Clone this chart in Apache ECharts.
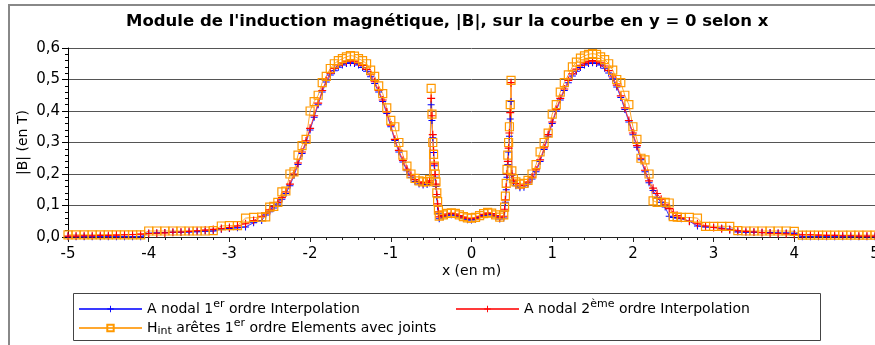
<!DOCTYPE html>
<html>
<head>
<meta charset="utf-8">
<script src="https://cdn.jsdelivr.net/npm/echarts@6/dist/echarts.min.js"></script>
<style>
  html, body { margin: 0; padding: 0; background: #fff; }
  #chart { width: 875px; height: 345px; }
</style>
</head>
<body>
<div id="chart"></div>
<script>
// Sample positions along the line y = 0 (metres)
const xPos = [
  -5.0, -4.9, -4.8, -4.7, -4.6, -4.5, -4.4, -4.3, -4.2, -4.1,
  -4.0, -3.9, -3.8, -3.7, -3.6, -3.5, -3.4, -3.3, -3.2, -3.1,
  -3.0, -2.9, -2.8, -2.7, -2.6,
  -2.55, -2.5, -2.45, -2.4, -2.35, -2.3, -2.25, -2.2, -2.15, -2.1,
  -2.05, -2.0, -1.95, -1.9, -1.85, -1.8, -1.75, -1.7, -1.65, -1.6,
  -1.55, -1.5, -1.45, -1.4, -1.35, -1.3, -1.25, -1.2, -1.15, -1.1,
  -1.05, -1.0, -0.95, -0.9, -0.85, -0.8, -0.75, -0.7, -0.65, -0.6,
  -0.55, -0.52,
  -0.5, -0.49, -0.48, -0.47, -0.46, -0.45, -0.44, -0.43, -0.42, -0.41, -0.4,
  -0.35, -0.3, -0.25, -0.2, -0.15, -0.1, -0.05, 0, 0.05, 0.1, 0.15, 0.2, 0.25, 0.3, 0.35,
  0.4, 0.41, 0.42, 0.43, 0.44, 0.45, 0.46, 0.47, 0.48, 0.49, 0.5,
  0.52, 0.55,
  0.6, 0.65, 0.7, 0.75, 0.8, 0.85, 0.9, 0.95, 1.0, 1.05,
  1.1, 1.15, 1.2, 1.25, 1.3, 1.35, 1.4, 1.45, 1.5, 1.55,
  1.6, 1.65, 1.7, 1.75, 1.8, 1.85, 1.9, 1.95, 2.0, 2.05,
  2.1, 2.15, 2.2, 2.25, 2.3, 2.35, 2.4, 2.45, 2.5, 2.55,
  2.6, 2.7, 2.8, 2.9, 3.0, 3.1, 3.2, 3.3, 3.4, 3.5,
  3.6, 3.7, 3.8, 3.9, 4.0, 4.1, 4.2, 4.3, 4.4, 4.5,
  4.6, 4.7, 4.8, 4.9, 5.0
];

// |B| in tesla, A nodal, first order
const bNodal1 = [
  0.001, 0.001, 0.001, 0.001, 0.001, 0.001, 0.001, 0.001, 0.001, 0.001,
  0.012, 0.013, 0.014, 0.015, 0.015, 0.016, 0.017, 0.018, 0.019, 0.025,
  0.027, 0.029, 0.032, 0.045, 0.052,
  0.07, 0.08, 0.092, 0.105, 0.12, 0.138, 0.163, 0.195, 0.23, 0.265,
  0.3, 0.34, 0.38, 0.42, 0.46, 0.492, 0.514, 0.528, 0.539, 0.546,
  0.551, 0.553, 0.551, 0.546, 0.538, 0.526, 0.509, 0.487, 0.46, 0.43,
  0.392, 0.35, 0.306, 0.27, 0.238, 0.21, 0.19, 0.176, 0.168, 0.165,
  0.167, 0.172,
  0.42, 0.37, 0.315, 0.268, 0.226, 0.19, 0.16, 0.128, 0.098, 0.074, 0.058,
  0.064, 0.069, 0.071, 0.069, 0.064, 0.059, 0.055, 0.054, 0.056, 0.062, 0.068, 0.072, 0.07, 0.064, 0.057,
  0.06, 0.082, 0.11, 0.15, 0.19, 0.23, 0.27, 0.32, 0.375, 0.43, 0.195,
  0.175, 0.163,
  0.156, 0.158, 0.168, 0.184, 0.207, 0.24, 0.278, 0.32, 0.36, 0.4,
  0.435, 0.465, 0.49, 0.511, 0.526, 0.538, 0.546, 0.551, 0.553, 0.551,
  0.546, 0.536, 0.521, 0.502, 0.476, 0.443, 0.405, 0.365, 0.325, 0.285,
  0.245, 0.207, 0.172, 0.148, 0.125, 0.11, 0.095, 0.066, 0.062, 0.06,
  0.058, 0.05, 0.035, 0.032, 0.03, 0.028, 0.025, 0.016, 0.015, 0.015,
  0.014, 0.014, 0.013, 0.013, 0.012, 0.001, 0.001, 0.001, 0.001, 0.001,
  0.001, 0.001, 0.001, 0.001, 0.001
];

// |B| in tesla, A nodal, second order
const bNodal2 = [
  0.003, 0.003, 0.004, 0.004, 0.005, 0.005, 0.006, 0.007, 0.008, 0.009,
  0.011, 0.012, 0.013, 0.015, 0.016, 0.018, 0.02, 0.022, 0.024, 0.027,
  0.03, 0.035, 0.042, 0.052, 0.066,
  0.076, 0.086, 0.097, 0.11, 0.125, 0.143, 0.168, 0.2, 0.235, 0.27,
  0.305, 0.345, 0.385, 0.425, 0.465, 0.497, 0.52, 0.535, 0.546, 0.553,
  0.558, 0.56, 0.558, 0.553, 0.545, 0.532, 0.515, 0.493, 0.465, 0.435,
  0.397, 0.355, 0.31, 0.275, 0.243, 0.215, 0.196, 0.182, 0.174, 0.171,
  0.173, 0.178,
  0.44, 0.385, 0.325, 0.275, 0.232, 0.198, 0.168, 0.135, 0.105, 0.08, 0.064,
  0.068, 0.073, 0.075, 0.073, 0.068, 0.063, 0.059, 0.058, 0.06, 0.066, 0.072, 0.076, 0.074, 0.068, 0.061,
  0.066, 0.088, 0.118, 0.158, 0.2, 0.24, 0.282, 0.33, 0.395, 0.49, 0.2,
  0.18, 0.17,
  0.163, 0.165, 0.174, 0.19, 0.213, 0.245, 0.283, 0.325, 0.365, 0.405,
  0.44, 0.47, 0.497, 0.518, 0.533, 0.545, 0.553, 0.558, 0.56, 0.558,
  0.553, 0.543, 0.528, 0.508, 0.482, 0.448, 0.41, 0.37, 0.33, 0.29,
  0.25, 0.212, 0.178, 0.155, 0.138, 0.12, 0.104, 0.09, 0.078, 0.068,
  0.06, 0.05, 0.042, 0.035, 0.03, 0.026, 0.023, 0.02, 0.018, 0.016,
  0.014, 0.012, 0.011, 0.01, 0.008, 0.007, 0.007, 0.006, 0.005, 0.005,
  0.004, 0.004, 0.003, 0.003, 0.003
];

// |B| in tesla, H int, edge elements with joints
const hAretes = [
  0.007, 0.007, 0.007, 0.007, 0.007, 0.007, 0.007, 0.007, 0.007, 0.007,
  0.019, 0.019, 0.019, 0.019, 0.019, 0.019, 0.019, 0.019, 0.02, 0.035,
  0.036, 0.036, 0.06, 0.062, 0.063,
  0.064, 0.095, 0.097, 0.11, 0.143, 0.146, 0.2, 0.207, 0.26, 0.29,
  0.31, 0.4, 0.43, 0.45, 0.49, 0.51, 0.535, 0.55, 0.56, 0.566,
  0.572, 0.576, 0.574, 0.566, 0.56, 0.55, 0.53, 0.51, 0.48, 0.455,
  0.41, 0.37, 0.35, 0.3, 0.26, 0.225, 0.2, 0.186, 0.178, 0.175,
  0.176, 0.182,
  0.472, 0.39, 0.3, 0.262, 0.225, 0.2, 0.175, 0.14, 0.112, 0.085, 0.066,
  0.07, 0.075, 0.077, 0.075, 0.07, 0.065, 0.061, 0.06, 0.062, 0.068, 0.074, 0.078, 0.076, 0.07, 0.063,
  0.07, 0.095, 0.13, 0.17, 0.215, 0.26, 0.3, 0.35, 0.42, 0.497, 0.21,
  0.185, 0.175,
  0.168, 0.17, 0.18, 0.2, 0.23, 0.27, 0.3, 0.33, 0.39, 0.42,
  0.46, 0.49, 0.515, 0.54, 0.555, 0.568, 0.575, 0.58, 0.582, 0.58,
  0.572, 0.563, 0.55, 0.53, 0.5, 0.49, 0.45, 0.42, 0.35, 0.31,
  0.25, 0.245, 0.2, 0.115, 0.11, 0.11, 0.11, 0.108, 0.065, 0.063,
  0.062, 0.062, 0.06, 0.034, 0.034, 0.034, 0.034, 0.02, 0.019, 0.019,
  0.019, 0.019, 0.019, 0.019, 0.018, 0.006, 0.006, 0.006, 0.006, 0.006,
  0.006, 0.006, 0.006, 0.006, 0.006
];

const yTickLabels = ['0,0', '0,1', '0,2', '0,3', '0,4', '0,5', '0,6'];

const seriesNames = [
  'A nodal 1er ordre Interpolation',
  'A nodal 2ème ordre Interpolation',
  'Hint arêtes 1er ordre Elements avec joints'
];
// Legend labels with superscripts / subscript
const legendRich = {
  [seriesNames[0]]: '{n|A nodal 1}{sup|er}{n| ordre Interpolation}',
  [seriesNames[1]]: '{n|A nodal 2}{sup|ème}{n| ordre Interpolation}',
  [seriesNames[2]]: '{n|H}{sub|int}{n| arêtes 1}{sup|er}{n| ordre Elements avec joints}'
};

const FONT = 'DejaVu Sans';
const PLUS = 'path://M3,0H4V3H7V4H4V7H3V4H0V3H3Z';

const pairs = arr => xPos.map((x, i) => [x, arr[i]]);

const legendCommon = {
  padding: 0,
  itemWidth: 63,
  itemHeight: 8,
  itemGap: 8,
  selectedMode: false,
  formatter: name => legendRich[name],
  textStyle: {
    fontFamily: FONT, fontSize: 14, color: '#000',
    rich: {
      n: { fontFamily: FONT, fontSize: 14, color: '#000' },
      sup: { fontFamily: FONT, fontSize: 11, color: '#000', padding: [0, 0, 9, 0] },
      sub: { fontFamily: FONT, fontSize: 11, color: '#000', padding: [6, 0, 0, 0] }
    }
  }
};

const chart = echarts.init(document.getElementById('chart'), null, { renderer: 'canvas' });
chart.setOption({
  animation: false,
  backgroundColor: '#fff',
  title: {
    text: "Module de l'induction magnétique, |B|, sur la courbe en y = 0 selon x",
    left: 126,
    top: 13,
    padding: 0,
    textStyle: { fontFamily: FONT, fontWeight: 'bold', fontSize: 16.5, color: '#000' }
  },
  graphic: [
    { type: 'rect', silent: true, shape: { x: 9, y: 5, width: 900, height: 400 },
      style: { fill: 'none', stroke: '#888', lineWidth: 2 } },
    { type: 'rect', silent: true, shape: { x: 73.5, y: 293.5, width: 747, height: 47 },
      style: { fill: 'none', stroke: '#444', lineWidth: 1 } }
  ],
  legend: [
    Object.assign({ data: [seriesNames[0]], left: 78, top: 299 }, legendCommon),
    Object.assign({ data: [seriesNames[1]], left: 455, top: 299 }, legendCommon),
    Object.assign({ data: [seriesNames[2]], left: 78, top: 318 }, legendCommon)
  ],
  grid: { left: 68, right: 0, top: 48, bottom: 108, outerBoundsMode: 'none', containLabel: false },
  xAxis: {
    type: 'value', min: -5, max: 5, interval: 1,
    name: 'x (en m)', nameLocation: 'middle', nameGap: 27, nameMoveOverlap: false,
    nameTextStyle: { fontFamily: FONT, fontSize: 14, color: '#000' },
    axisLine: { onZero: false, lineStyle: { color: '#222', width: 1 } },
    axisTick: { length: 5, lineStyle: { color: '#222' } },
    minorTick: { show: true, splitNumber: 5, length: 3, lineStyle: { color: '#222' } },
    axisLabel: { fontFamily: FONT, fontSize: 15, color: '#000', margin: 10 },
    splitLine: { show: false }
  },
  yAxis: {
    type: 'value', min: 0, max: 0.6, interval: 0.1,
    name: '|B| (en T)', nameLocation: 'middle', nameGap: 38, nameRotate: 90, nameMoveOverlap: false,
    nameTextStyle: { fontFamily: FONT, fontSize: 14, color: '#000' },
    axisLine: { show: true, onZero: false, lineStyle: { color: '#000', width: 1 } },
    axisTick: { show: true, length: 6, lineStyle: { color: '#000' } },
    minorTick: { show: true, splitNumber: 5, length: 3, lineStyle: { color: '#000' } },
    axisLabel: {
      fontFamily: FONT, fontSize: 15, color: '#000', margin: 8,
      formatter: v => yTickLabels[Math.round(v * 10)]
    },
    splitLine: { show: true, lineStyle: { color: '#555', width: 1 } }
  },
  series: [
    {
      name: seriesNames[0], type: 'line', data: pairs(bNodal1),
      symbol: PLUS, symbolSize: 7, showAllSymbol: true, silent: true,
      lineStyle: { color: '#3a3aff', width: 1 },
      itemStyle: { color: '#0000ff' },
      emphasis: { disabled: true }
    },
    {
      name: seriesNames[1], type: 'line', data: pairs(bNodal2),
      symbol: PLUS, symbolSize: 8, showAllSymbol: true, silent: true,
      lineStyle: { color: '#ff3a3a', width: 1 },
      itemStyle: { color: '#ff0000' },
      emphasis: { disabled: true }
    },
    {
      name: seriesNames[2], type: 'line', data: pairs(hAretes),
      symbol: 'rect', symbolSize: 8, showAllSymbol: true, silent: true,
      lineStyle: { color: '#ffa830', width: 1 },
      itemStyle: { color: 'rgba(255,255,255,0)', borderColor: '#ff9900', borderWidth: 1.2 },
      emphasis: { disabled: true }
    }
  ]
});
</script>
</body>
</html>
